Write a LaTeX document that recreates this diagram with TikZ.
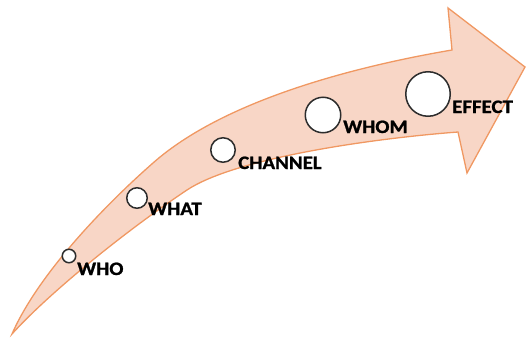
\documentclass[tikz,border=0pt]{standalone}
\usepackage{fontspec}
\setmainfont{Carlito}
\newfontfamily\lblfont{Carlito}[FakeBold=1]
\definecolor{arrowfill}{RGB}{248,214,198}
\definecolor{arrowline}{RGB}{240,152,98}
\definecolor{ringcol}{RGB}{45,45,45}
\tikzset{
  dot/.style={circle, draw=ringcol, fill=white, line width=1.5pt, inner sep=0pt},
  lbl/.style={anchor=base west, inner sep=0pt, font=\lblfont\fontsize{19}{19}\selectfont\bfseries, xscale=1.1, text=black}
}
\begin{document}
\begin{tikzpicture}[x=1pt,y=-1pt]
\useasboundingbox (0,0) rectangle (526,337);
\draw[fill=arrowfill, draw=arrowline, line width=1.3pt, line join=miter]
  (12,334) .. controls (40,270) and (113,198) .. (153,163)
  .. controls (223,101) and (352,67) .. (452,50)
  -- (448,8) -- (525,67) -- (467,173) -- (458,132)
  .. controls (378,138) and (237,157) .. (187,190)
  .. controls (127,230) and (50,292) .. (12,334)
  -- cycle;
\node[dot, minimum size=13.5pt] (who) at (69,256) {};
\node[dot, minimum size=20.5pt] (what) at (137,198) {};
\node[dot, minimum size=24.5pt] (channel) at (223,150) {};
\node[dot, minimum size=35.5pt] (whom) at (323,115) {};
\node[dot, minimum size=44.5pt] (effect) at (428,94) {};
\node[lbl] (twho) at (77,275) {WHO};
\node[lbl] (twhat) at (148,215) {WHAT};
\node[lbl] (tchannel) at (238,169) {CHANNEL};
\node[lbl] (twhom) at (343,133) {WHOM};
\node[lbl] (teffect) at (452,113) {EFFECT};
\end{tikzpicture}
\end{document}
